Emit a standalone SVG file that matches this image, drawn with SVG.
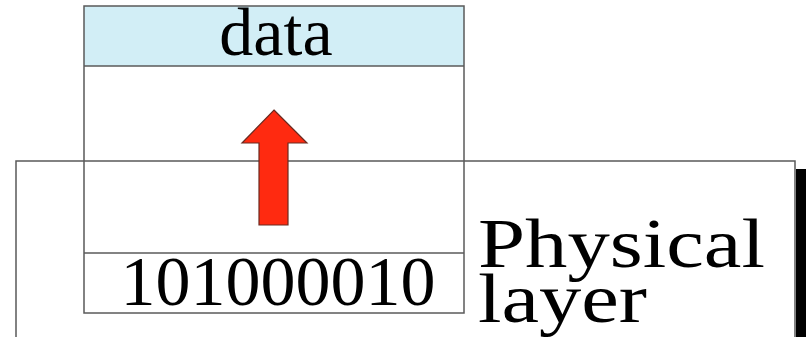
<svg xmlns="http://www.w3.org/2000/svg" width="806" height="337" viewBox="0 0 806 337">
<style>
.ln{fill:none;stroke:#5a5a5a;stroke-width:1.5}
.t{font-family:"Liberation Serif","Times New Roman",serif;fill:#000}
</style>
<rect width="806" height="337" fill="#fff"/>
<g id="physical-layer">
<rect x="796" y="169" width="10" height="170" fill="#000"/>
<path class="ln" d="M16,337 V161 H795 V337"/>
<text class="t" x="478" y="267" font-size="70" textLength="287" lengthAdjust="spacingAndGlyphs">Physical</text>
<text class="t" x="478" y="322" font-size="70" textLength="169" lengthAdjust="spacingAndGlyphs">layer</text>
</g>
<g id="data-stack">
<rect x="84" y="6" width="380" height="60" fill="#d2eef6"/>
<rect class="ln" x="84" y="6" width="380" height="307"/>
<line class="ln" x1="84" y1="66" x2="464" y2="66"/>
<line class="ln" x1="84" y1="253" x2="464" y2="253"/>
<text class="t" x="276" y="55" font-size="68" text-anchor="middle">data</text>
<text class="t" x="278" y="305" font-size="70" text-anchor="middle">101000010</text>
</g>
<g id="connectors">
<path d="M274,110 L307,143 L288,143 L288,225 L259,225 L259,143 L242,143 Z" fill="#ff2a10" stroke="#6a2a20" stroke-width="1.2"/>
</g>
</svg>
